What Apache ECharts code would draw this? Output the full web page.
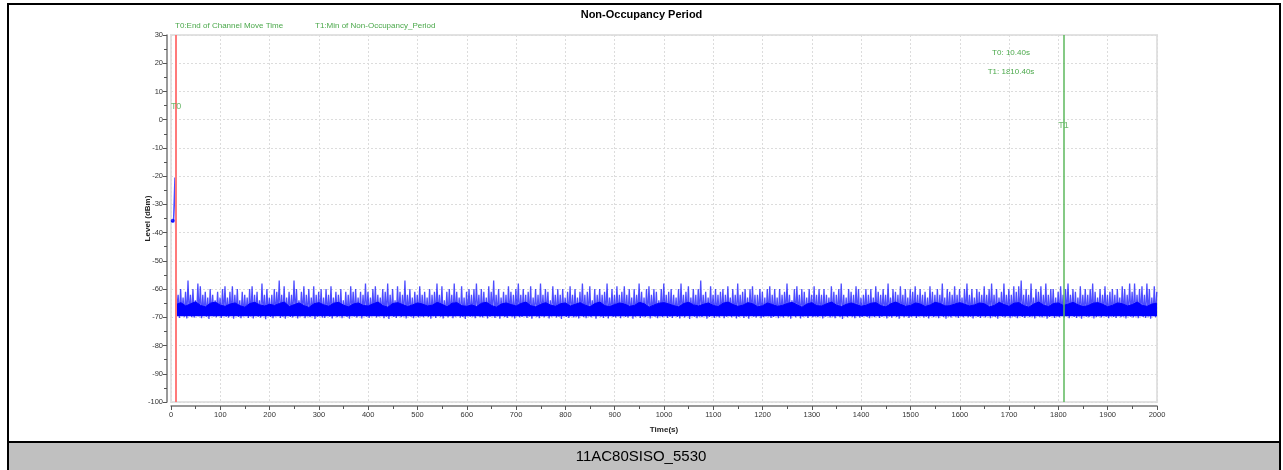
<!DOCTYPE html>
<html><head><meta charset="utf-8">
<script src="https://cdn.jsdelivr.net/npm/echarts@6/dist/echarts.min.js"></script>
<style>html,body{margin:0;padding:0;background:#fff}#c{width:1283px;height:470px}</style>
</head><body><div id="c"></div>
<script>
// ---- data ----
const startTimes = [0, 2, 3.5, 5, 7, 7.6, 7.9, 10.9, 11.3];
const startLevels = [-36, -36.3, -35.8, -36.2, -36, -36, -20.5, -57.5, -69];
const binStart = 12, binStep = 5;
const peakLevels = [
-62,-60,-63,-61,-57,-62,-60,-64,-58,-59,-62,-61,-63,-60,-62,-64,-61,-63,-60,-59,
-63,-61,-59,-62,-60,-64,-61,-62,-63,-60,-59,-62,-61,-64,-58,-62,-60,-63,-62,-60,
-61,-57,-62,-59,-63,-61,-62,-57,-60,-64,-61,-59,-62,-60,-63,-59,-62,-61,-60,-63,
-60,-62,-59,-63,-61,-62,-60,-64,-61,-62,-59,-61,-60,-63,-61,-62,-58,-61,-63,-60,
-59,-62,-63,-60,-61,-58,-62,-60,-64,-59,-61,-62,-57,-62,-60,-63,-61,-62,-59,-62,
-61,-63,-60,-62,-61,-58,-62,-59,-64,-61,-60,-62,-58,-61,-63,-59,-63,-61,-60,-62,
-60,-58,-62,-60,-61,-63,-59,-61,-57,-62,-60,-63,-61,-62,-59,-61,-62,-60,-58,-62,
-60,-62,-61,-59,-63,-60,-62,-58,-62,-60,-61,-64,-59,-62,-60,-62,-60,-63,-61,-59,
-62,-60,-63,-61,-58,-62,-61,-59,-64,-60,-62,-60,-62,-61,-58,-63,-60,-62,-59,-62,
-61,-59,-62,-60,-63,-60,-62,-58,-61,-63,-60,-59,-62,-60,-61,-64,-60,-58,-62,-61,
-60,-62,-63,-60,-58,-62,-61,-59,-63,-60,-62,-60,-57,-62,-61,-63,-59,-62,-60,-62,
-61,-60,-62,-59,-63,-60,-62,-58,-62,-61,-60,-63,-60,-59,-62,-62,-60,-61,-63,-60,
-59,-62,-60,-63,-60,-62,-61,-58,-62,-64,-60,-59,-62,-60,-61,-63,-60,-62,-59,-62,
-60,-62,-60,-62,-63,-59,-61,-62,-60,-58,-62,-63,-60,-61,-62,-59,-60,-63,-62,-60,
-62,-60,-63,-59,-61,-62,-60,-62,-58,-63,-60,-61,-62,-59,-62,-60,-63,-60,-61,-59,
-62,-60,-62,-61,-63,-59,-61,-62,-60,-62,-58,-63,-60,-61,-62,-59,-62,-60,-63,-60,
-58,-62,-60,-63,-60,-61,-62,-59,-62,-60,-58,-62,-60,-63,-61,-58,-62,-60,-62,-59,
-61,-59,-57,-62,-60,-62,-58,-63,-60,-61,-59,-62,-58,-62,-60,-60,-63,-61,-59,-62,
-60,-58,-62,-60,-61,-63,-59,-62,-60,-62,-60,-58,-61,-63,-60,-62,-59,-62,-61,-60,
-62,-60,-63,-59,-60,-62,-58,-61,-58,-62,-60,-59,-62,-58,-60,-63,-59,-61
];
const floorLevels = [
-69.5,-70.2,-69.1,-69.8,-70.4,-69.3,-69.9,-70.1,-68.9,-69.6,-70.3,-69.4,-69.8,-70.6,-69.2,-69.7,-70,-69.5,-70.2,-69.1,
-69.8,-70.1,-69.4,-70.5,-69.2,-69.9,-70.3,-69.6,-69,-70.2,-69.7,-70.4,-69.3,-69.8,-70.1,-69.5,-70.7,-69.2,-69.9,-70.3,
-69.6,-69.1,-70.2,-69.8,-70.5,-69.4,-69.9,-70.1,-69.3,-70.4,-69.7,-69,-70.3,-69.6,-70,-69.2,-70.6,-69.8,-69.4,-70.1,
-70.2,-69.5,-69.8,-70.4,-69.1,-70,-69.6,-70.3,-69.4,-69.9,-70.5,-69.2,-69.7,-70.1,-69.5,-70.4,-69.3,-69.8,-70.2,-69.6,
-69.4,-70.1,-69.7,-69.2,-70.3,-69.8,-70.6,-69.5,-69.9,-70.2,-69.3,-70,-69.6,-70.4,-69.1,-69.8,-70.3,-69.5,-70.1,-69.7,
-70,-69.3,-69.9,-70.5,-69.6,-70.2,-69.1,-69.8,-70.4,-69.5,-70,-69.2,-70.3,-69.7,-69.4,-70.1,-69.9,-70.6,-69.3,-69.8,
-69.7,-70.3,-69.2,-69.9,-70.1,-69.5,-70.4,-69.8,-69.1,-70.2,-69.6,-70.5,-69.4,-69.9,-70.2,-69.3,-69.8,-70.4,-69.5,-70,
-69.9,-69.4,-70.2,-69.7,-70.5,-69.1,-69.8,-70.3,-69.6,-70,-69.2,-70.4,-69.7,-69.5,-70.1,-69.8,-70.6,-69.3,-69.9,-70.2,
-69.5,-70.1,-69.8,-70.4,-69.2,-69.9,-70.3,-69.6,-70,-69.4,-70.5,-69.1,-69.8,-70.2,-69.7,-70.4,-69.3,-69.9,-70.1,-69.6,
-70.3,-69.6,-69.9,-70.1,-69.4,-70.5,-69.8,-69.2,-70.2,-69.7,-70,-69.5,-70.4,-69.1,-69.8,-70.3,-69.6,-70,-69.4,-70.2,
-69.8,-70.2,-69.3,-69.9,-70.4,-69.6,-70.1,-69.5,-70.6,-69.2,-69.8,-70.3,-69.7,-70,-69.4,-70.5,-69.9,-69.3,-70.2,-69.7,
-70.1,-69.5,-70.3,-69.8,-69.2,-70,-69.6,-70.4,-69.9,-69.4,-70.2,-69.7,-70.5,-69.3,-69.8,-70.1,-69.5,-70.3,-69.9,-69.6,
-69.6,-70.2,-69.9,-69.4,-70.3,-69.7,-70.1,-69.2,-69.8,-70.5,-69.5,-70,-69.3,-70.4,-69.8,-69.6,-70.2,-69.1,-70,-69.7,
-70,-69.5,-70.4,-69.8,-69.3,-70.1,-69.7,-70.3,-69.4,-69.9,-70.6,-69.6,-70,-69.2,-69.8,-70.3,-69.5,-70.1,-69.9,-69.4,
-69.9,-70.3,-69.6,-70,-69.4,-70.2,-69.8,-69.1,-70.4,-69.7,-70.1,-69.5,-69.9,-70.5,-69.3,-70,-69.6,-70.2,-69.8,-69.5,
-70.2,-69.7,-69.3,-70.1,-69.8,-70.4,-69.5,-70,-69.6,-70.3,-69.2,-69.9,-70.5,-69.7,-70.1,-69.4,-69.8,-70.2,-69.6,-70,
-69.5,-70,-69.8,-70.4,-69.3,-69.9,-70.2,-69.6,-70.1,-69.4,-70.3,-69.7,-69.9,-70.5,-69.2,-69.8,-70.1,-69.5,-70.3,-69.7,
-69.8,-70.3,-69.5,-69.9,-70.2,-69.4,-70,-69.7,-70.4,-69.3,-69.8,-70.1,-69.6,-70.5,-69.9,-69.2,-70.2,-69.7,-70,-69.5,
-70.1,-69.6,-70.3,-69.4,-69.9,-70.2,-69.7,-70.5,-69.3,-69.8,-70,-69.5,-70.4,-69.9,-69.6,-70.1,-69.2,-69.8,-70.3,-69.7,
-69.9,-70.2,-69.5,-70,-69.7,-70.4,-69.3,-69.8,-70.1,-69.6,-70.3,-69.4,-69.9,-70.2,-69.7,-70.5,-69.5,-70
];
// upper edge of the dense noise band, every 10 s from 10 s to 2000 s
const bandStart = 10, bandStep = 10;
const bandTopLevels = [
-65.5,-64.8,-66,-65.2,-64.5,-65.8,-66.3,-65,-64.6,-65.7,-66.1,-65.3,-64.9,-65.9,-66.4,-65.1,-64.7,-65.6,-66,-65.4,
-65.8,-65.1,-64.6,-66.2,-65.5,-64.9,-65.9,-66.5,-65.2,-64.8,-65.6,-66.1,-65,-64.7,-65.7,-66.3,-65.3,-64.9,-65.8,-66,
-65.2,-64.6,-65.9,-66.4,-65.1,-64.8,-65.5,-66.2,-65.6,-64.9,-65.3,-66,-65.7,-64.7,-65.4,-66.3,-65,-64.8,-65.9,-66.1,
-65.6,-66.2,-65,-64.7,-65.8,-66.4,-65.3,-64.9,-65.5,-66,-65.1,-64.6,-65.9,-66.3,-65.4,-64.8,-65.7,-66.1,-65.2,-64.9,
-66,-65.4,-64.8,-65.7,-66.3,-65.1,-64.6,-65.9,-66.2,-65.5,-64.9,-65.3,-66.1,-65.8,-64.7,-65.2,-66.4,-65.6,-65,-64.8,
-65.3,-65.9,-66.3,-65.1,-64.7,-65.6,-66,-65.4,-64.9,-65.8,-66.2,-65,-64.6,-65.5,-66.1,-65.7,-64.8,-65.2,-66.3,-65.9,
-64.9,-65.5,-66.1,-65.8,-65.1,-64.7,-65.6,-66.4,-65.3,-64.8,-65.9,-66,-65.2,-64.6,-65.7,-66.2,-65.4,-64.9,-65.5,-66.1,
-65.7,-65,-64.8,-65.9,-66.3,-65.2,-64.6,-65.4,-66.1,-65.8,-64.9,-65.3,-66.2,-65.6,-64.7,-65.1,-66,-65.9,-65.3,-64.8,
-65.4,-66,-65.6,-64.9,-65.2,-66.3,-65.8,-64.7,-65.5,-66.1,-65,-64.8,-65.9,-66.4,-65.3,-64.6,-65.7,-66.2,-65.1,-64.9,
-65.8,-65.3,-64.7,-65.6,-66.2,-65.9,-65,-64.8,-65.4,-66.3,-65.7,-64.9,-65.2,-66,-65.5,-64.6,-65.8,-66.1,-65.3,-65
];
const bandBaseLevel = -69.6;
const markerT0 = 10.4, markerT1 = 1810.4;
const markerT0Level = 4.5, markerT1Level = -2;
const chartTitle = 'Non-Occupancy Period';
const legendT0 = 'T0:End of Channel Move Time';
const legendT1 = 'T1:Min of Non-Occupancy_Period';
const infoT0 = 'T0: 10.40s', infoT1 = 'T1: 1810.40s';
const caption = '11AC80SISO_5530';

// ---- build ----
const traceData = [];
for (let i = 0; i < startTimes.length; i++) traceData.push([startTimes[i], startLevels[i]]);
for (let i = 0; i < peakLevels.length; i++) {
  traceData.push([binStart + binStep * i, floorLevels[i]]);
  traceData.push([binStart + binStep * i + binStep / 2, peakLevels[i]]);
}
const bandData = bandTopLevels.map((v, i) => [bandStart + bandStep * i, v]);
const green = '#4aa84a';
const font = 'Liberation Sans, Arial, sans-serif';
const axisCommon = {
  offset: 4, nameLocation: 'middle', nameMoveOverlap: false,
  nameTextStyle: {fontSize: 8, fontWeight: 'bold', color: '#222', fontFamily: font},
  axisLine: {show: true, onZero: false, lineStyle: {color: '#777', width: 1.5}},
  axisTick: {show: true, length: 4, lineStyle: {color: '#555'}},
  minorTick: {show: true, splitNumber: 2, length: 3, lineStyle: {color: '#555'}},
  splitLine: {show: true, lineStyle: {color: '#dcdcdc', type: [2, 2], width: 1}}
};
const chart = echarts.init(document.getElementById('c'), null, {renderer: 'canvas'});
chart.setOption({
  animation: false,
  backgroundColor: '#fff',
  title: {text: chartTitle, left: 'center', top: 4, textStyle: {fontSize: 11, fontWeight: 'bold', color: '#000', fontFamily: font}},
  grid: {left: 171, right: 126, top: 35, bottom: 68, show: true, borderColor: '#e2e2e2', borderWidth: 2, backgroundColor: '#fff'},
  xAxis: Object.assign({}, axisCommon, {
    type: 'value', min: 0, max: 2000, interval: 100,
    name: 'Time(s)', nameGap: 20,
    axisLabel: {fontSize: 7.5, color: '#333', margin: 5, fontFamily: font, formatter: v => String(v)}
  }),
  yAxis: Object.assign({}, axisCommon, {
    type: 'value', min: -100, max: 30, interval: 10,
    name: 'Level (dBm)', nameGap: 15, nameRotate: 90,
    axisLabel: {fontSize: 7.5, color: '#333', margin: 4, fontFamily: font, formatter: v => String(v)}
  }),
  series: [
    {
      type: 'line', data: bandData, showSymbol: false, symbol: 'none',
      lineStyle: {color: '#0000ff', width: 1}, sampling: null, z: 2,
      areaStyle: {color: '#0000ff', opacity: 1, origin: bandBaseLevel}
    },
    {
      type: 'line', data: traceData, showSymbol: false, symbol: 'none',
      lineStyle: {color: '#0000ff', width: 1.3, opacity: 0.7}, sampling: null, z: 3,
      markLine: {
        silent: true, symbol: 'none', label: {show: false},
        data: [
          {xAxis: markerT0, lineStyle: {color: '#ff7a7a', width: 2, type: 'solid', opacity: 1}},
          {xAxis: markerT1, lineStyle: {color: '#5cb85c', width: 1.5, type: 'solid', opacity: 1}}
        ]
      }
    },
    {
      type: 'scatter', symbolSize: 4, symbol: 'circle', itemStyle: {color: '#0000ff'},
      data: [[startTimes[2], startLevels[2]]], z: 4
    },
    {
      type: 'scatter', symbolSize: 0, z: 5,
      data: [
        {value: [markerT0, markerT0Level], label: {formatter: 'T0'}},
        {value: [markerT1, markerT1Level], label: {formatter: 'T1'}}
      ],
      label: {show: true, position: 'inside', color: green, fontSize: 9, fontFamily: font}
    }
  ],
  graphic: [
    {type: 'text', left: 175, top: 22, style: {text: legendT0, fill: green, fontSize: 8, fontFamily: font}},
    {type: 'text', left: 315, top: 22, style: {text: legendT1, fill: green, fontSize: 8, fontFamily: font}},
    {type: 'text', x: 1011, y: 53, style: {text: infoT0, fill: green, fontSize: 8, fontFamily: font, align: 'center', verticalAlign: 'middle'}},
    {type: 'text', x: 1011, y: 72, style: {text: infoT1, fill: green, fontSize: 8, fontFamily: font, align: 'center', verticalAlign: 'middle'}},
    {type: 'rect', shape: {x: 8, y: 442, width: 1272, height: 28}, style: {fill: '#c0c0c0'}, z: 10},
    {type: 'rect', shape: {x: 8, y: 4, width: 1272, height: 470}, style: {fill: null, stroke: '#000', lineWidth: 2}, z: 11},
    {type: 'line', shape: {x1: 8, y1: 442, x2: 1280, y2: 442}, style: {stroke: '#000', lineWidth: 2}, z: 11},
    {type: 'text', x: 641, y: 457, style: {text: caption, fill: '#000', fontSize: 15, fontFamily: font, align: 'center', verticalAlign: 'middle'}, z: 12}
  ]
});
</script></body></html>
